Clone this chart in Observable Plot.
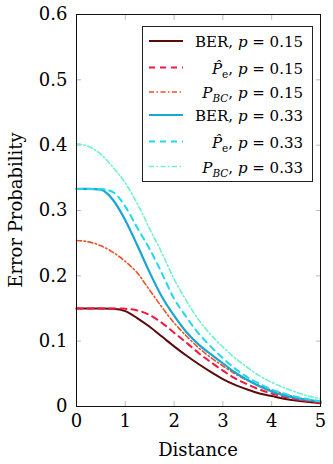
<!DOCTYPE html>
<html>
<head>
<meta charset="utf-8">
<script src="https://cdn.jsdelivr.net/npm/d3@7"></script>
<script src="https://cdn.jsdelivr.net/npm/@observablehq/plot@0.6"></script>
<style>
  html, body { margin: 0; padding: 0; background: #fff; }
  svg { display: block; }
</style>
</head>
<body>
<div id="chart"></div>
<script>
// ---- data ----
const distance = [0,0.25,0.5,0.75,1,1.25,1.5,1.75,2,2.25,2.5,2.75,3,3.25,3.5,3.75,4,4.25,4.5,4.75,5];
const ber015  = [0.15,0.15,0.15,0.1495,0.146,0.135,0.122,0.107,0.092,0.078,0.065,0.053,0.042,0.033,0.026,0.020,0.016,0.012,0.009,0.007,0.005];
const pe015   = [0.15,0.15,0.15,0.15,0.1495,0.147,0.140,0.128,0.113,0.098,0.082,0.068,0.055,0.043,0.034,0.026,0.020,0.015,0.011,0.008,0.006];
const pbc015  = [0.254,0.252,0.246,0.236,0.222,0.204,0.178,0.152,0.128,0.108,0.090,0.075,0.062,0.050,0.040,0.032,0.025,0.019,0.014,0.010,0.007];
const ber033  = [0.333,0.333,0.332,0.316,0.285,0.246,0.205,0.168,0.139,0.114,0.095,0.080,0.066,0.052,0.041,0.031,0.023,0.017,0.013,0.010,0.008];
const pe033   = [0.333,0.333,0.333,0.328,0.306,0.273,0.241,0.204,0.165,0.137,0.112,0.092,0.074,0.058,0.045,0.035,0.026,0.020,0.015,0.011,0.008];
const pbc033  = [0.402,0.398,0.386,0.366,0.342,0.310,0.272,0.235,0.195,0.162,0.133,0.110,0.091,0.074,0.060,0.047,0.037,0.029,0.022,0.016,0.012];

const xTicks = [0,1,2,3,4,5];
const yTicks = [0,0.1,0.2,0.3,0.4,0.5,0.6];
const xLabel = "Distance";
const yLabel = "Error Probability";

(function () {
const series = [
  {values: ber015, name:"BER", pval:"0.15", color:"#5c0b0b", dash:null, width:2},
  {values: pe015,  name:"Phat", pval:"0.15", color:"#f5163d", dash:"6,5", width:2},
  {values: pbc015, name:"PBC", pval:"0.15", color:"#ec5128", dash:"5,2.5,1.5,2.5", width:1.6},
  {values: ber033, name:"BER", pval:"0.33", color:"#18a6d4", dash:null, width:2.2},
  {values: pe033,  name:"Phat", pval:"0.33", color:"#1fd9ef", dash:"6,5", width:2},
  {values: pbc033, name:"PBC", pval:"0.33", color:"#6cf3cd", dash:"5,2.5,1.5,2.5", width:1.6}
];

const font = "DejaVu Serif";

const lineMarks = series.map(s => Plot.line(
  distance.map((d, i) => ({x: d, y: s.values[i]})),
  {x: "x", y: "y", stroke: s.color, strokeWidth: s.width, strokeDasharray: s.dash, curve: "monotone-x"}
));

const plot = Plot.plot({
  width: 333,
  height: 464,
  marginLeft: 76,
  marginRight: 13,
  marginTop: 14,
  marginBottom: 58,
  style: {fontFamily: font, fontSize: "18px", color: "#000", background: "#fff"},
  x: {domain: [0, 5]},
  y: {domain: [0, 0.6]},
  marks: [
    Plot.axisX(xTicks.slice(1, -1), {anchor: "bottom", tickSize: -5, stroke: "#bdbdbd", label: null, text: null}),
    Plot.axisX(xTicks.slice(1, -1), {anchor: "top", tickSize: -5, stroke: "#bdbdbd", label: null, text: null}),
    Plot.axisY(yTicks.slice(1, -1), {anchor: "left", tickSize: -5, stroke: "#bdbdbd", label: null, text: null}),
    Plot.axisY(yTicks.slice(1, -1), {anchor: "right", tickSize: -5, stroke: "#bdbdbd", label: null, text: null}),
    Plot.axisX(xTicks, {anchor: "bottom", tickSize: 0, tickPadding: 8, tickFormat: d => String(d), label: null, fontSize: 18}),
    Plot.axisY(yTicks, {anchor: "left", tickSize: 0, tickPadding: 9, tickFormat: d => String(d), label: null, fontSize: 18}),
    ...lineMarks,
    Plot.frame({stroke: "#111", strokeWidth: 1})
  ]
});

document.getElementById("chart").appendChild(plot);

const svg = d3.select(plot);
const xs = plot.scale("x"), ys = plot.scale("y");
const pLeft = xs.range[0], pRight = xs.range[1];
const pTop = ys.range[1], pBottom = ys.range[0];

svg.append("text")
  .attr("x", (pLeft + pRight) / 2).attr("y", pBottom + 50)
  .attr("text-anchor", "middle")
  .attr("font-family", font)
  .style("font-size", "18px")
  .text(xLabel);

svg.append("text")
  .attr("transform", `translate(${22},${(pTop + pBottom) / 2}) rotate(-90)`)
  .attr("text-anchor", "middle")
  .attr("font-family", font)
  .style("font-size", "18px")
  .text(yLabel);

const lg = svg.append("g").attr("font-family", font).style("font-size", "15px");
const lx = 142.5, ly = 26.5, lw = 170, lh = 155;
lg.append("rect").attr("x", lx).attr("y", ly).attr("width", lw).attr("height", lh)
  .attr("fill", "#fff").attr("stroke", "#222").attr("stroke-width", 1);
const rowY = [41, 67.5, 92, 115, 141.5, 166.5];
series.forEach((s, i) => {
  const y = rowY[i];
  lg.append("line").attr("x1", 149).attr("x2", 183).attr("y1", y).attr("y2", y)
    .attr("stroke", s.color).attr("stroke-width", s.width)
    .attr("stroke-dasharray", s.dash);
  const t = lg.append("text").attr("x", 303).attr("y", y + 6).attr("text-anchor", "end");
  if (s.name === "BER") {
    t.append("tspan").text("BER, ");
  } else if (s.name === "Phat") {
    t.append("tspan").style("font-style", "italic").text("P\u0302");
    t.append("tspan").attr("dy", 4).style("font-size", "10.5px").text("e");
    t.append("tspan").attr("dy", -4).text(", ");
  } else {
    t.append("tspan").style("font-style", "italic").text("P");
    t.append("tspan").attr("dy", 4).style("font-size", "10.5px").style("font-style", "italic").text("BC");
    t.append("tspan").attr("dy", -4).text(", ");
  }
  t.append("tspan").style("font-style", "italic").text("p");
  t.append("tspan").text(" = " + s.pval);
});
})();
</script>
</body>
</html>
